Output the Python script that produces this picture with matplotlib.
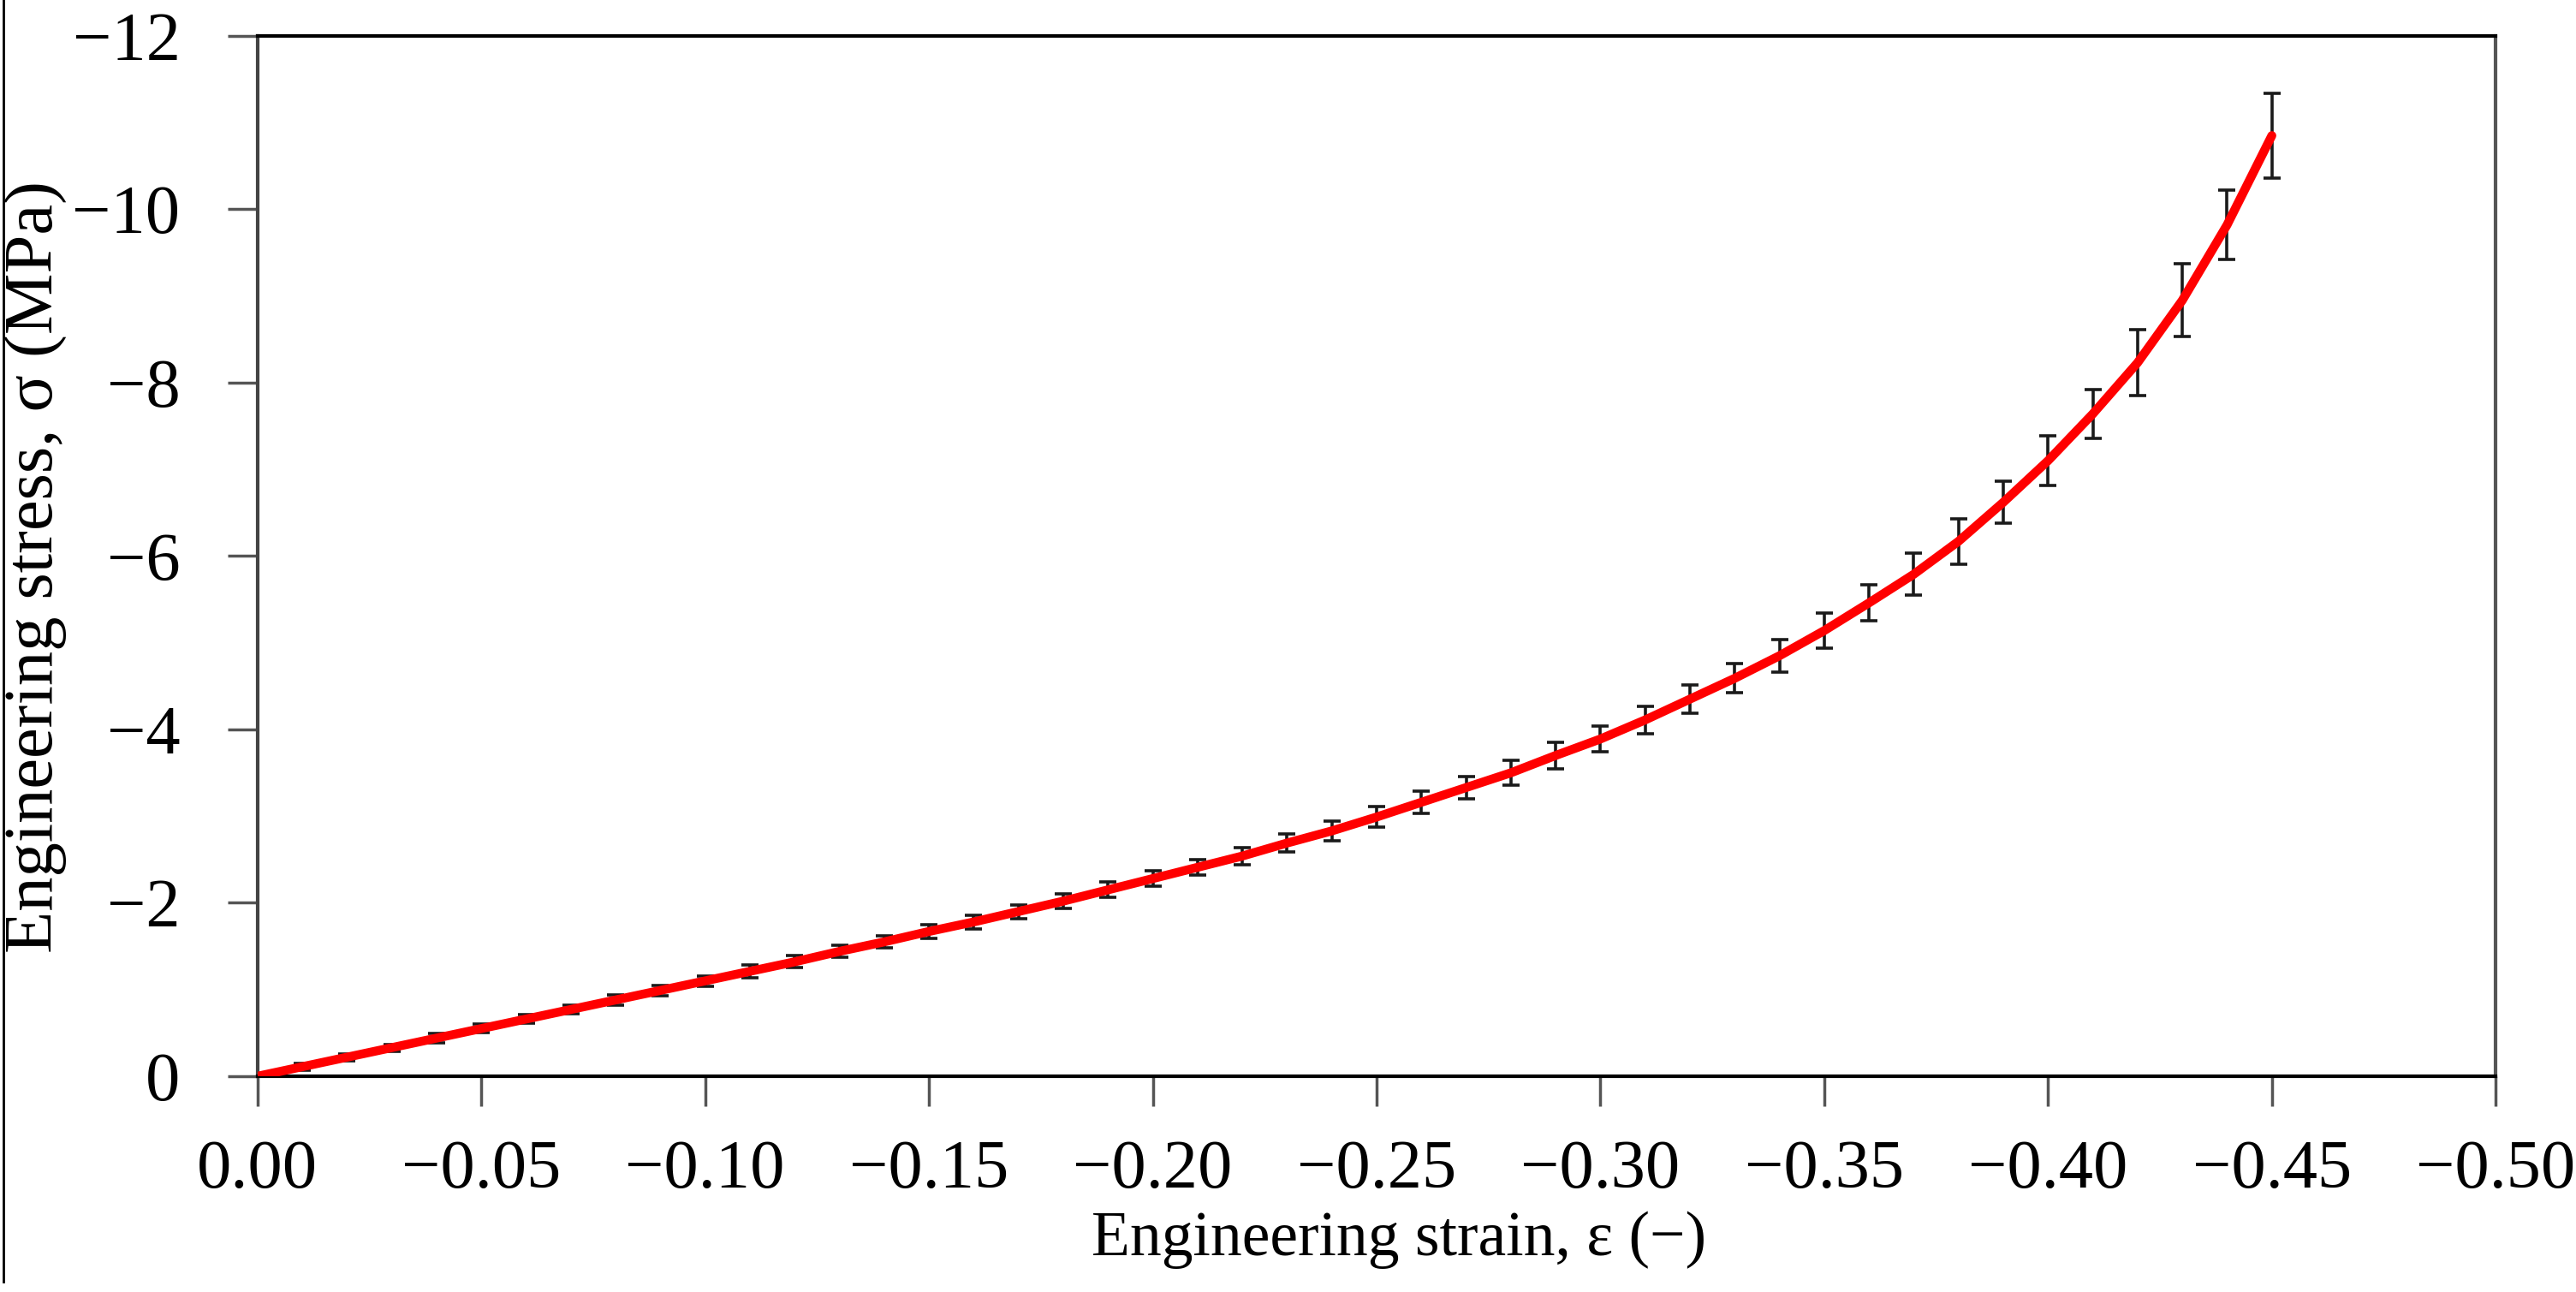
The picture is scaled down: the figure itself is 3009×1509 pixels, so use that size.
import matplotlib
matplotlib.use("Agg")
import matplotlib.pyplot as plt
from matplotlib.lines import Line2D
from matplotlib.ticker import FuncFormatter, MultipleLocator

plt.rcParams["font.family"] = ["Liberation Serif", "DejaVu Serif"]

# strain (-) at each measurement step, mean stress (MPa) and its error half-width
strain = [0.00, -0.01, -0.02, -0.03, -0.04, -0.05, -0.06, -0.07, -0.08, -0.09,
          -0.10, -0.11, -0.12, -0.13, -0.14, -0.15, -0.16, -0.17, -0.18, -0.19,
          -0.20, -0.21, -0.22, -0.23, -0.24, -0.25, -0.26, -0.27, -0.28, -0.29,
          -0.30, -0.31, -0.32, -0.33, -0.34, -0.35, -0.36, -0.37, -0.38, -0.39,
          -0.40, -0.41, -0.42, -0.43, -0.44, -0.45]
stress = [0.00, -0.11, -0.22, -0.33, -0.44, -0.55, -0.66, -0.77, -0.88, -0.99,
          -1.10, -1.21, -1.32, -1.44, -1.55, -1.67, -1.78, -1.90, -2.02, -2.15,
          -2.28, -2.41, -2.54, -2.69, -2.83, -2.99, -3.16, -3.33, -3.50, -3.70,
          -3.89, -4.11, -4.35, -4.59, -4.85, -5.14, -5.46, -5.79, -6.17, -6.62,
          -7.10, -7.64, -8.23, -8.95, -9.82, -10.85]
stress_err = [0.00, 0.04, 0.04, 0.04, 0.05, 0.05, 0.05, 0.05, 0.06, 0.06,
              0.06, 0.07, 0.07, 0.07, 0.07, 0.08, 0.08, 0.08, 0.08, 0.09,
              0.09, 0.09, 0.10, 0.10, 0.11, 0.12, 0.13, 0.13, 0.14, 0.15,
              0.15, 0.16, 0.16, 0.17, 0.19, 0.20, 0.21, 0.24, 0.26, 0.24,
              0.29, 0.28, 0.38, 0.42, 0.40, 0.49]

fig = plt.figure(figsize=(30.09, 15.09), dpi=100)
ax = fig.add_axes([0.1000, 0.1670, 0.8688, 0.8052])

# error bars (skip the origin point), red curve drawn over them
ax.errorbar(strain[1:], stress[1:], yerr=stress_err[1:], fmt="none",
            ecolor="#1a1a1a", elinewidth=2.6, capsize=7.5, capthick=2.6, zorder=2)
ax.plot(strain, stress, color="#ff0000", lw=7.5, solid_capstyle="round", zorder=3)

ax.set_xlim(0, -0.50)
ax.set_ylim(0, -12)
ax.xaxis.set_major_locator(MultipleLocator(0.05))
ax.yaxis.set_major_locator(MultipleLocator(2))
ax.xaxis.set_major_formatter(FuncFormatter(
    lambda v, _: "0.00" if abs(v) < 1e-9 else f"{v:.2f}".replace("-", "\u2212")))
ax.yaxis.set_major_formatter(FuncFormatter(
    lambda v, _: "0" if abs(v) < 1e-9 else f"{v:.0f}".replace("-", "\u2212")))

ax.tick_params(axis="both", direction="out", length=25, width=2.5,
               color="#555555", labelsize=58)
ax.tick_params(axis="x", pad=28)
ax.tick_params(axis="y", pad=40)

for side, col in (("left", "#444444"), ("bottom", "#000000"),
                  ("top", "#000000"), ("right", "#555555")):
    ax.spines[side].set_color(col)
    ax.spines[side].set_linewidth(3)

ax.set_xlabel("Engineering strain, \u03b5 (\u2212)", fontsize=53)
ax.set_ylabel("Engineering stress, \u03c3 (MPa)", fontsize=58)
ax.xaxis.set_label_coords(0.51, -0.13)
ax.yaxis.set_label_coords(-0.085, 0.49)

# thin vertical rule at the far left of the figure
fig.add_artist(Line2D([0.0012, 0.0012], [0.008, 1.0], transform=fig.transFigure,
                      color="black", lw=2))

fig.savefig("out.png", dpi=100, facecolor="white")
